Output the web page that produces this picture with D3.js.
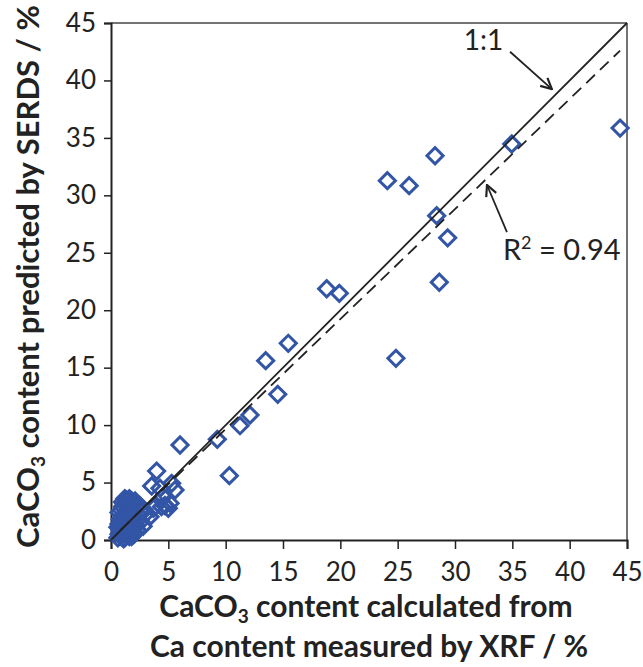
<!DOCTYPE html>
<html>
<head>
<meta charset="utf-8">
<script src="https://cdn.jsdelivr.net/npm/d3@7"></script>
<style>
  body { margin: 0; background: #fff; }
  text { font-family: Lato, "Open Sans", sans-serif; fill: #222; }
</style>
</head>
<body>
<div id="chart"></div>
<script>
// measured XRF (x) vs SERDS prediction (y), CaCO3 %
const xrfValues = [44.4, 34.95, 28.26, 26.0, 24.1, 28.4, 29.36, 28.63, 18.81, 19.91, 15.46, 13.49, 14.54, 24.85,
  12.12, 11.25, 9.27, 6.02, 10.32,
  3.98, 3.55, 4.27, 5.29, 5.58, 4.56, 5.0, 3.84, 3.4, 3.1, 4.7, 4.4, 3.7, 5.15, 2.7,
  0.6, 0.7, 0.8, 0.9, 1.0, 1.1, 1.2, 1.3, 1.4, 1.5, 1.3, 1.6, 1.8, 2.0, 2.2, 1.7, 1.9, 2.1, 2.3, 1.5,
  1.2, 0.8, 0.7, 1.0, 2.4, 2.6, 2.8, 1.1, 1.6, 0.9, 2.0, 2.5, 2.9, 1.4, 0.6, 1.8,
  1.0, 1.2, 1.4, 0.9, 1.7, 2.1, 1.1, 0.7, 1.5, 1.9, 2.3, 1.3, 0.8, 1.6, 2.0];
const serdsValues = [35.85, 34.47, 33.45, 30.84, 31.28, 28.23, 26.3, 22.43, 21.87, 21.47, 17.12, 15.61, 12.68, 15.81,
  10.88, 9.95, 8.76, 8.27, 5.6,
  6.0, 4.7, 4.5, 4.93, 4.35, 3.77, 2.76, 2.9, 2.03, 2.35, 3.0, 2.9, 2.76, 3.2, 2.46,
  0.2, 0.5, 0.9, 0.3, 1.2, 0.7, 1.6, 2.1, 2.6, 3.1, 3.5, 3.6, 3.4, 3.2, 2.9, 2.4, 1.8, 1.3, 0.9, 0.6,
  0.2, 1.8, 2.4, 2.9, 2.2, 1.6, 1.2, 0.1, 1.0, 1.4, 0.5, 3.0, 2.6, 0.4, 1.1, 0.3,
  3.3, 3.6, 3.4, 2.6, 2.8, 3.4, 2.2, 1.4, 1.9, 2.2, 1.7, 0.9, 0.6, 0.3, 1.0];
const tickValues = [0, 5, 10, 15, 20, 25, 30, 35, 40, 45];
const oneToOne = [[0, 0], [45, 45]];
const fitLine = [[0.8, 0.84], [44.4, 42.6]];

const svgWidth = 643, svgHeight = 667;
const margin = {top: 23, right: 16, bottom: 127, left: 111};
const width = svgWidth - margin.left - margin.right,
  height = svgHeight - margin.top - margin.bottom;

const svg = d3.select("#chart").append("svg")
  .attr("width", svgWidth)
  .attr("height", svgHeight);

const defs = svg.append("defs");
defs.append("marker")
  .attr("id", "arrow")
  .attr("viewBox", "0 0 12 12")
  .attr("refX", 11).attr("refY", 6)
  .attr("markerWidth", 13).attr("markerHeight", 13)
  .attr("markerUnits", "userSpaceOnUse")
  .attr("orient", "auto")
  .append("path")
  .attr("d", "M1,1 L11,6 L1,11")
  .attr("fill", "none")
  .attr("stroke", "#222")
  .attr("stroke-width", 2);

const g = svg.append("g")
  .attr("transform", "translate(" + margin.left + "," + margin.top + ")");

const x = d3.scaleLinear().domain([0, 45]).range([0, width]);
const y = d3.scaleLinear().domain([0, 45]).range([height, 0]);

// frame top/right
g.append("line").attr("x1", 0).attr("x2", width).attr("y1", 0).attr("y2", 0)
  .attr("stroke", "#444").attr("stroke-width", 1.5);
g.append("line").attr("x1", width).attr("x2", width).attr("y1", 0).attr("y2", height)
  .attr("stroke", "#444").attr("stroke-width", 1.5);

// axes
const xAxis = g.append("g")
  .attr("transform", "translate(0," + height + ")")
  .call(d3.axisBottom(x).tickValues(tickValues).tickSize(9).tickPadding(14));
const yAxis = g.append("g")
  .call(d3.axisLeft(y).tickValues(tickValues).tickSize(7).tickPadding(8));
[xAxis, yAxis].forEach(function(ax) {
  ax.select(".domain").attr("stroke", "#222").attr("stroke-width", 2);
  ax.selectAll(".tick line").attr("stroke", "#222").attr("stroke-width", 1.5);
  ax.selectAll(".tick text").style("font-family", "Lato, sans-serif").style("font-size", "26px").attr("fill", "#222");
});

// points
const line = d3.line().x(function(d) { return x(d[0]); }).y(function(d) { return y(d[1]); });
const pts = xrfValues.map(function(v, i) { return [v, serdsValues[i]]; });
g.selectAll(".pt")
  .data(pts)
  .enter()
  .append("path")
  .attr("class", "pt")
  .attr("d", d3.symbol().type(d3.symbolSquare).size(130))
  .attr("transform", function(d) { return "translate(" + x(d[0]) + "," + y(d[1]) + ") rotate(45)"; })
  .attr("fill", "none")
  .attr("stroke", "#3355a6")
  .attr("stroke-width", 3);

// 1:1 and fit lines
g.append("path").datum(oneToOne).attr("d", line)
  .attr("stroke", "#222").attr("stroke-width", 1.8).attr("fill", "none");
g.append("path").datum(fitLine).attr("d", line)
  .attr("stroke", "#222").attr("stroke-width", 1.8).attr("fill", "none")
  .attr("stroke-dasharray", "12,7");

// annotations
g.append("text").attr("x", x(34.2)).attr("y", y(42.65))
  .attr("text-anchor", "end").style("font-size", "28px").text("1:1");
g.append("line")
  .attr("x1", x(34.8)).attr("y1", y(42.5)).attr("x2", x(38.45)).attr("y2", y(39.25))
  .attr("stroke", "#222").attr("stroke-width", 1.8).attr("marker-end", "url(#arrow)");
const r2 = g.append("text").attr("x", x(34.18)).attr("y", y(24.37)).style("font-size", "29px");
r2.append("tspan").text("R");
r2.append("tspan").attr("dy", -11).style("font-size", "18px").text("2");
r2.append("tspan").attr("dy", 11).text(" = 0.94");
g.append("line")
  .attr("x1", x(34.53)).attr("y1", y(26.8)).attr("x2", x(32.79)).attr("y2", y(30.9))
  .attr("stroke", "#222").attr("stroke-width", 1.8).attr("marker-end", "url(#arrow)");

// axis titles
const xt1 = svg.append("text").attr("x", margin.left + width / 2 - 3).attr("y", 617)
  .attr("text-anchor", "middle").style("font-size", "30px").style("font-weight", "bold");
xt1.append("tspan").text("CaCO");
xt1.append("tspan").attr("dy", 6).style("font-size", "19px").text("3");
xt1.append("tspan").attr("dy", -6).text(" content calculated from");
svg.append("text").attr("x", margin.left + width / 2).attr("y", 657)
  .attr("text-anchor", "middle").style("font-size", "30px").style("font-weight", "bold")
  .text("Ca content measured by XRF / %");

const yt = svg.append("text")
  .attr("transform", "translate(39," + (margin.top + height / 2 - 5) + ") rotate(-90)")
  .attr("text-anchor", "middle").style("font-size", "31px").style("font-weight", "bold");
yt.append("tspan").text("CaCO");
yt.append("tspan").attr("dy", 6).style("font-size", "19px").text("3");
yt.append("tspan").attr("dy", -6).text(" content predicted by SERDS / %");
</script>
</body>
</html>
